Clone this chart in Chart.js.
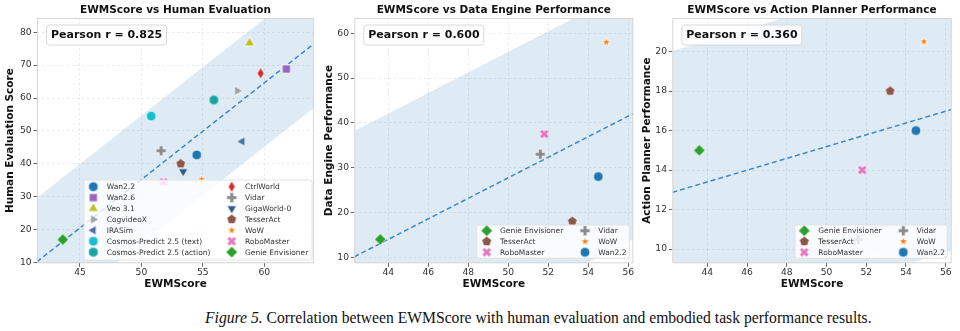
<!DOCTYPE html>
<html>
<head>
<meta charset="utf-8">
<script src="https://cdn.jsdelivr.net/npm/chart.js@4.4.1/dist/chart.umd.min.js"></script>
<style>
  html, body { margin: 0; padding: 0; background: #fff; }
  body { width: 960px; height: 331px; position: relative; overflow: hidden; }
  canvas { position: absolute; top: 0; }
  #c1 { left: 0; }
  #c2 { left: 320px; }
  #c3 { left: 640px; }
  #caption {
    position: absolute; top: 309px; left: 205px;
    font-family: "Liberation Serif", "DejaVu Serif", serif;
    font-size: 15.65px; line-height: 18px; color: #111; white-space: nowrap;
  }
</style>
</head>
<body>
<canvas id="c1" width="320" height="300"></canvas>
<canvas id="c2" width="320" height="300"></canvas>
<canvas id="c3" width="320" height="300"></canvas>
<div id="caption"><i>Figure 5.</i> Correlation between EWMScore with human evaluation and embodied task performance results.</div>
<script>
// ---- data ----
const models = [
  "Wan2.2", "Wan2.6", "Veo 3.1", "CogvideoX", "IRASim",
  "Cosmos-Predict 2.5 (text)", "Cosmos-Predict 2.5 (action)",
  "CtrlWorld", "Vidar", "GigaWorld-0", "TesserAct", "WoW",
  "RoboMaster", "Genie Envisioner"
];
const ewmScore = [54.5, 61.8, 58.8, 57.8, 58.2, 50.8, 55.9, 59.7, 51.6, 53.4, 53.2, 54.9, 51.8, 43.6];
const humanEval = [42.7, 68.8, 76.7, 62.2, 46.8, 54.5, 59.4, 67.5, 44.0, 37.7, 40.0, 35.3, 34.5, 17.0];

const taskModels = ["Genie Envisioner", "TesserAct", "RoboMaster", "Vidar", "WoW", "Wan2.2"];
const dataEngine = [14.0, 18.0, 37.5, 33.0, 58.0, 28.0];
const actionPlanner = [15.0, 18.0, 14.0, 10.5, 20.5, 16.0];

const pearsonR = ["0.825", "0.600", "0.360"];

const humanXTicks = [45, 50, 55, 60];
const humanYTicks = [10, 20, 30, 40, 50, 60, 70, 80];
const taskXTicks = [44, 46, 48, 50, 52, 54, 56];
const engineYTicks = [10, 20, 30, 40, 50, 60];
const plannerYTicks = [10, 12, 14, 16, 18, 20];

const taskEwm = taskModels.map(n => ewmScore[models.indexOf(n)]);

// ---- marker glyphs ----
const styleOf = {
  "Wan2.2": ["o", "#1f77b4", 4.9],
  "Wan2.6": ["s", "#9467bd", 4.8],
  "Veo 3.1": ["^", "#bcbd22", 5.8],
  "CogvideoX": [">", "#a3a3a3", 5.6],
  "IRASim": ["<", "#4a70a8", 5.6],
  "Cosmos-Predict 2.5 (text)": ["o", "#17becf", 4.9],
  "Cosmos-Predict 2.5 (action)": ["8", "#17a3a3", 5.1],
  "CtrlWorld": ["d", "#d62728", 5.8],
  "Vidar": ["P", "#8a8a8a", 5.2],
  "GigaWorld-0": ["v", "#2e5a8a", 5.6],
  "TesserAct": ["p", "#8c564b", 5.2],
  "WoW": ["*", "#ff7f0e", 4.5],
  "RoboMaster": ["X", "#e377c2", 5.0],
  "Genie Envisioner": ["D", "#2ca02c", 5.8]
};

function poly(g, n, r, start) {
  for (let i = 0; i < n; i++) {
    const a = start + i * 2 * Math.PI / n;
    const px = r * Math.cos(a), py = r * Math.sin(a);
    if (i === 0) g.moveTo(px, py); else g.lineTo(px, py);
  }
}

function plusPath(g, r, rot) {
  const w = r * 0.36;
  const pts = [[-w, -r], [w, -r], [w, -w], [r, -w], [r, w], [w, w], [w, r], [-w, r], [-w, w], [-r, w], [-r, -w], [-w, -w]];
  const c = Math.cos(rot), s = Math.sin(rot);
  pts.forEach((p, i) => {
    const px = p[0] * c - p[1] * s, py = p[0] * s + p[1] * c;
    if (i === 0) g.moveTo(px, py); else g.lineTo(px, py);
  });
}

function makeMarker(shape, color, r) {
  const size = Math.ceil(r * 2 + 4);
  const c = document.createElement("canvas");
  c.width = size; c.height = size;
  const g = c.getContext("2d");
  g.translate(size / 2, size / 2);
  g.beginPath();
  const up = -Math.PI / 2;
  switch (shape) {
    case "o": g.arc(0, 0, r, 0, 2 * Math.PI); break;
    case "s": g.rect(-r * 0.85, -r * 0.85, r * 1.7, r * 1.7); break;
    case "^": poly(g, 3, r, up); break;
    case "v": poly(g, 3, r, Math.PI / 2); break;
    case ">": poly(g, 3, r, 0); break;
    case "<": poly(g, 3, r, Math.PI); break;
    case "D": poly(g, 4, r, up); break;
    case "p": poly(g, 5, r, up); break;
    case "8": poly(g, 8, r, Math.PI / 8); break;
    case "d":
      g.moveTo(0, -r); g.lineTo(r * 0.6, 0); g.lineTo(0, r); g.lineTo(-r * 0.6, 0); break;
    case "*":
      for (let i = 0; i < 10; i++) {
        const a = up + i * Math.PI / 5, rr = i % 2 ? r * 0.42 : r;
        if (i === 0) g.moveTo(rr * Math.cos(a), rr * Math.sin(a));
        else g.lineTo(rr * Math.cos(a), rr * Math.sin(a));
      }
      break;
    case "P": plusPath(g, r, 0); break;
    case "X": plusPath(g, r, Math.PI / 4); break;
  }
  g.closePath();
  g.fillStyle = color;
  g.fill();
  g.lineWidth = 0.8;
  g.strokeStyle = "#ffffff";
  g.stroke();
  return c;
}

const markers = {};
Object.keys(styleOf).forEach(n => {
  const s = styleOf[n];
  markers[n] = makeMarker(s[0], s[1], s[2]);
});

// least squares fit with residual spread
function fit(xs, ys) {
  const n = xs.length;
  const mx = xs.reduce((a, b) => a + b, 0) / n;
  const my = ys.reduce((a, b) => a + b, 0) / n;
  let sxy = 0, sxx = 0;
  for (let i = 0; i < n; i++) {
    sxy += (xs[i] - mx) * (ys[i] - my);
    sxx += (xs[i] - mx) * (xs[i] - mx);
  }
  const slope = sxy / sxx;
  const icpt = my - slope * mx;
  let sse = 0;
  for (let i = 0; i < n; i++) {
    const e = ys[i] - (icpt + slope * xs[i]);
    sse += e * e;
  }
  return { slope, icpt, sd: Math.sqrt(sse / (n - 2)) };
}

// frame, pearson box and legend drawn on top of the plot
function decor(cfg) {
  return {
    id: "decor",
    afterDatasetsDraw(chart) {
      const ctx = chart.ctx;
      const a = chart.chartArea;
      ctx.save();

      // axes frame
      ctx.strokeStyle = "#d6d6d6";
      ctx.lineWidth = 1;
      ctx.strokeRect(a.left + 0.5, a.top + 0.5, a.right - a.left - 1, a.bottom - a.top - 1);

      // pearson box
      const bx = a.left + 9.5, by = a.top + 7;
      ctx.beginPath();
      ctx.roundRect(bx, by, 120, 20, 3);
      ctx.fillStyle = "rgba(255,255,255,0.85)";
      ctx.fill();
      ctx.strokeStyle = "#d9d9d9";
      ctx.stroke();
      ctx.fillStyle = "#111";
      ctx.font = "bold 11px 'DejaVu Sans'";
      ctx.textBaseline = "middle";
      ctx.fillText("Pearson r = " + cfg.r, bx + 4.5, by + 10.5);

      // legend
      const L = cfg.legend;
      ctx.beginPath();
      ctx.roundRect(L.x, L.y, L.w, L.h, 2.5);
      ctx.fillStyle = "rgba(255,255,255,0.8)";
      ctx.fill();
      ctx.strokeStyle = "#e2e2e2";
      ctx.stroke();
      ctx.font = "7.5px 'DejaVu Sans'";
      ctx.fillStyle = "#333";
      cfg.names.forEach((n, i) => {
        const col = Math.floor(i / L.rows), row = i % L.rows;
        const y = L.row0 + row * L.rowH;
        const m = markers[n];
        ctx.drawImage(m, L.mx[col] - m.width / 2, y - m.height / 2);
        ctx.fillText(n, L.tx[col], y + 0.5);
      });
      ctx.restore();
    }
  };
}

function buildPanel(id, cfg) {
  const f = fit(cfg.xs, cfg.ys);
  const x0 = cfg.xLim[0], x1 = cfg.xLim[1];
  const at = x => f.icpt + f.slope * x;
  const band = 2 * f.sd;

  const datasets = cfg.names.map((n, i) => ({
    type: "scatter",
    label: n,
    data: [{ x: cfg.xs[i], y: cfg.ys[i] }],
    pointStyle: markers[n],
    pointRadius: 5,
    order: 1
  }));
  const k = datasets.length;
  datasets.push({
    type: "line", label: "fit",
    data: [{ x: x0, y: at(x0) }, { x: x1, y: at(x1) }],
    borderColor: "#3d88c9", borderWidth: 1.5, borderDash: [5, 3],
    pointRadius: 0, fill: false, order: 2
  });
  datasets.push({
    type: "line", label: "upper",
    data: [{ x: x0, y: at(x0) + band }, { x: x1, y: at(x1) + band }],
    borderWidth: 0, pointRadius: 0, fill: k + 2,
    backgroundColor: "rgba(31,119,180,0.15)", order: 3
  });
  datasets.push({
    type: "line", label: "lower",
    data: [{ x: x0, y: at(x0) - band }, { x: x1, y: at(x1) - band }],
    borderWidth: 0, pointRadius: 0, fill: false, order: 3
  });

  const tickFont = { family: "DejaVu Sans", size: 9.2 };
  const labelFont = { family: "DejaVu Sans", size: 10.5, weight: "bold" };
  const grid = {
    color: "rgba(0,0,0,0.08)", tickColor: "#444", tickLength: 3.5,
    tickWidth: 0.8, tickBorderDash: []
  };

  return new Chart(document.getElementById(id), {
    type: "scatter",
    data: { datasets },
    options: {
      responsive: false,
      animation: false,
      layout: { padding: { left: 0, right: cfg.padRight, top: 0, bottom: 0 } },
      plugins: {
        legend: { display: false },
        tooltip: { enabled: false },
        title: {
          display: true, text: cfg.title, fullSize: false,
          color: "#111", font: labelFont, padding: { top: 4.4, bottom: 1 }
        }
      },
      scales: {
        x: {
          type: "linear", min: x0, max: x1,
          afterBuildTicks: s => { s.ticks = cfg.xTicks.map(v => ({ value: v })); },
          afterFit: s => { s.height = 300 - cfg.bottom; },
          ticks: { color: "#333", font: tickFont, padding: 0, maxRotation: 0, autoSkip: false },
          grid: grid,
          border: { display: false, dash: [2.5, 2.5] },
          title: { display: true, text: "EWMScore", color: "#111", font: labelFont, padding: { top: 0, bottom: 9.4 } }
        },
        y: {
          type: "linear", min: cfg.yLim[0], max: cfg.yLim[1],
          afterBuildTicks: s => { s.ticks = cfg.yTicks.map(v => ({ value: v })); },
          afterFit: s => { s.width = cfg.left; },
          ticks: { color: "#333", font: tickFont, padding: 1.8, autoSkip: false },
          grid: grid,
          border: { display: false, dash: [2.5, 2.5] },
          title: { display: true, text: cfg.yTitle, color: "#111", font: labelFont, padding: { top: cfg.yTitlePad, bottom: 0 } }
        }
      }
    },
    plugins: [decor({ r: cfg.r, names: cfg.names, legend: cfg.legend })]
  });
}

buildPanel("c1", {
  names: models, xs: ewmScore, ys: humanEval, r: pearsonR[0],
  title: "EWMScore vs Human Evaluation", yTitle: "Human Evaluation Score",
  xLim: [41.5, 64.05], yLim: [9.8, 84.3], xTicks: humanXTicks, yTicks: humanYTicks,
  left: 37, bottom: 263.3, padRight: 5, yTitlePad: 4.4,
  legend: { x: 84, y: 180, w: 228, h: 80, rows: 7, row0: 186.7, rowH: 10.9, mx: [93.3, 231.7], tx: [106.7, 245] }
});

buildPanel("c2", {
  names: taskModels, xs: taskEwm, ys: dataEngine, r: pearsonR[1],
  title: "EWMScore vs Data Engine Performance", yTitle: "Data Engine Performance",
  xLim: [42.3, 56.25], yLim: [8.65, 63.4], xTicks: taskXTicks, yTicks: engineYTicks,
  left: 34.3, bottom: 263.3, padRight: 6.7, yTitlePad: 3.2,
  legend: { x: 156.7, y: 225, w: 152.6, h: 33.3, rows: 3, row0: 230.7, rowH: 10.8, mx: [166.7, 265], tx: [180, 278.3] }
});

buildPanel("c3", {
  names: taskModels, xs: taskEwm, ys: actionPlanner, r: pearsonR[2],
  title: "EWMScore vs Action Planner Performance", yTitle: "Action Planner Performance",
  xLim: [42.24, 56.3], yLim: [9.28, 21.7], xTicks: taskXTicks, yTicks: plannerYTicks,
  left: 32.3, bottom: 263.3, padRight: 8.3, yTitlePad: 1.2,
  legend: { x: 155, y: 225, w: 152.3, h: 33.3, rows: 3, row0: 230.7, rowH: 10.8, mx: [164.3, 263.3], tx: [178.3, 276.7] }
});
</script>
</body>
</html>
